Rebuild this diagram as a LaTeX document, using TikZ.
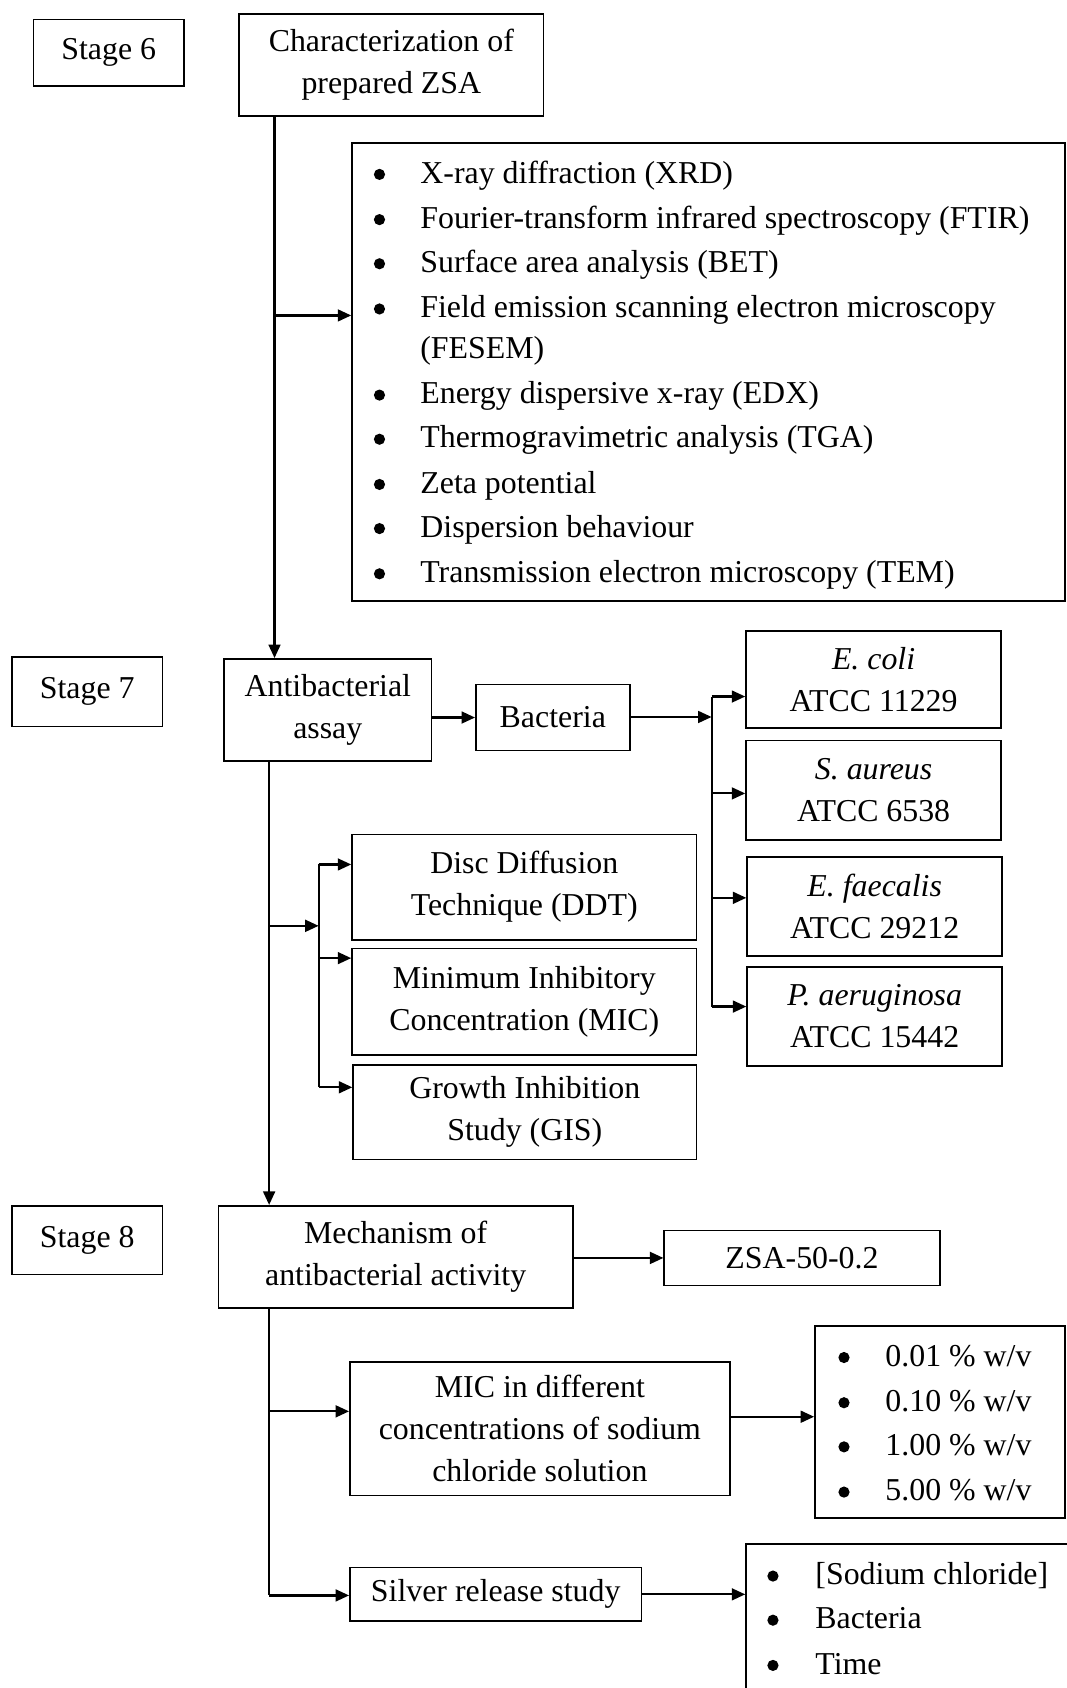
\documentclass[tikz,border=0pt]{standalone}
\usepackage{fontspec}
\setmainfont{Liberation Serif}
\usetikzlibrary{arrows.meta}
\newcommand\myfs{\fontsize{11.84}{15.6}\selectfont}
\begin{document}
\begin{tikzpicture}[x=0.4pt,y=-0.4pt,
  box/.style={draw, line width=0.6pt, inner sep=0pt, align=center, font=\myfs},
  sz/.style 2 args={minimum width=#1*0.4pt, minimum height=#2*0.4pt},
  conn/.style={line width=0.8pt},
  arr/.style={conn, -{Triangle[length=5pt,width=4.4pt]}},
  txt/.style={anchor=base west, inner sep=0pt, font=\myfs},
  bul/.style={fill=black},
]
\useasboundingbox (0,0) rectangle (991,1568);
\fill[white] (0,0) rectangle (991,1568);

% Stage 6
\node[box, sz={140}{62}] (stage6) at (101,49) {Stage 6};
\node[box, sz={283}{95}] (char) at (363.5,60.5) {Characterization of\\prepared ZSA};
\node[box, sz={662}{425}] (list1) at (658,345.5) {};
\foreach \yy/\lbl [count=\i] in {163/{X-ray diffraction (XRD)},
  205/{Fourier-transform infrared spectroscopy (FTIR)},
  246/{Surface area analysis (BET)},
  288/{Field emission scanning electron microscopy},
  368/{Energy dispersive x-ray (EDX)},
  409/{Thermogravimetric analysis (TGA)},
  451/{Zeta potential},
  492/{Dispersion behaviour},
  534/{Transmission electron microscopy (TEM)}}{
  \fill[bul] (352.5,\yy-1) circle[radius=5.2];
  \node[txt] (l1t\i) at (390,\yy+7) {\lbl};
}
\node[txt] (l1fesem) at (390,333) {(FESEM)};

% Stage 7
\node[box, sz={140}{65}] (stage7) at (81,642.5) {Stage 7};
\node[box, sz={193}{95}] (anti) at (304.5,659.5) {Antibacterial\\assay};
\node[box, sz={143}{61}] (bact) at (513.5,666.5) {Bacteria};
\node[box, sz={237}{90}] (ecoli) at (811.5,631) {\textit{E. coli}\\ATCC 11229};
\node[box, sz={237}{92}] (saur) at (811.5,734) {\textit{S. aureus}\\ATCC 6538};
\node[box, sz={237}{92}] (efae) at (812.5,842) {\textit{E. faecalis}\\ATCC 29212};
\node[box, sz={237}{92}] (paer) at (812.5,944) {\textit{P. aeruginosa}\\ATCC 15442};
\node[box, sz={320}{98}] (ddt) at (487,824) {Disc Diffusion\\Technique (DDT)};
\node[box, sz={320}{99}] (mic) at (487,930.5) {Minimum Inhibitory\\Concentration (MIC)};
\node[box, sz={319}{88}] (gis) at (487.5,1033) {Growth Inhibition\\Study (GIS)};

% Stage 8
\node[box, sz={140}{64}] (stage8) at (81,1152) {Stage 8};
\node[box, sz={329}{95}] (mech) at (367.5,1167.5) {Mechanism of\\antibacterial activity};
\node[box, sz={256}{51}] (zsa) at (745,1168.5) {ZSA-50-0.2};
\node[box, sz={353}{124}] (micna) at (501.5,1327) {MIC in different\\concentrations of sodium\\chloride solution};
\node[box, sz={232}{178}] (conc) at (873,1321) {};
\foreach \yy/\lbl [count=\i] in {1262/{0.01 \% w/v}, 1304/{0.10 \% w/v}, 1345/{1.00 \% w/v}, 1387/{5.00 \% w/v}}{
  \fill[bul] (784,\yy-1) circle[radius=5.2];
  \node[txt] (ct\i) at (822,\yy+7) {\lbl};
}
\node[box, sz={271}{50}] (silver) at (460.5,1481) {Silver release study};
\node[box, sz={302}{146}] (last) at (844,1507) {};
\foreach \yy/\lbl [count=\i] in {1465/{[Sodium chloride]}, 1506/{Bacteria}, 1548/{Time}}{
  \fill[bul] (718,\yy-1) circle[radius=5.2];
  \node[txt] (st\i) at (757,\yy+7) {\lbl};
}

% connectors stage 6
\coordinate (v1) at (255,0);
\coordinate (b1) at (255,293);
\draw[arr] (char.south -| v1) -- (anti.north -| v1);
\draw[arr] (b1) -- (b1 -| list1.west);

% connectors stage 7
\draw[arr] (anti.east |- bact) -- (bact.west);
\coordinate (s1) at (661,666);
\coordinate (e1) at (661,647);
\coordinate (e2) at (661,737);
\coordinate (e3) at (661,834);
\coordinate (e4) at (661,935);
\draw[arr] (bact.east |- s1) -- (s1);
\draw[conn] (e1) -- (e4);
\draw[arr] (e1) -- (e1 -| ecoli.west);
\draw[arr] (e2) -- (e2 -| saur.west);
\draw[arr] (e3) -- (e3 -| efae.west);
\draw[arr] (e4) -- (e4 -| paer.west);

\coordinate (v2) at (250,0);
\coordinate (b2) at (250,860);
\coordinate (s2) at (296,860);
\coordinate (d1) at (296,803);
\coordinate (d2) at (296,890);
\coordinate (d3) at (296,1010);
\draw[arr] (anti.south -| v2) -- (mech.north -| v2);
\draw[arr] (b2) -- (s2);
\draw[conn] (d1) -- (d3);
\draw[arr] (d1) -- (d1 -| ddt.west);
\draw[arr] (d2) -- (d2 -| mic.west);
\draw[arr] (d3) -- (d3 -| gis.west);

% connectors stage 8
\coordinate (m1) at (250,1311);
\coordinate (m2) at (250,1482);
\coordinate (m3) at (0,1316);
\draw[arr] (mech.east |- zsa) -- (zsa.west);
\draw[conn] (mech.south -| v2) -- (m2);
\draw[arr] (m1) -- (m1 -| micna.west);
\draw[arr] (m2) -- (m2 -| silver.west);
\draw[arr] (micna.east |- m3) -- (conc.west |- m3);
\draw[arr] (silver.east) -- (last.west |- silver);
\end{tikzpicture}
\end{document}
